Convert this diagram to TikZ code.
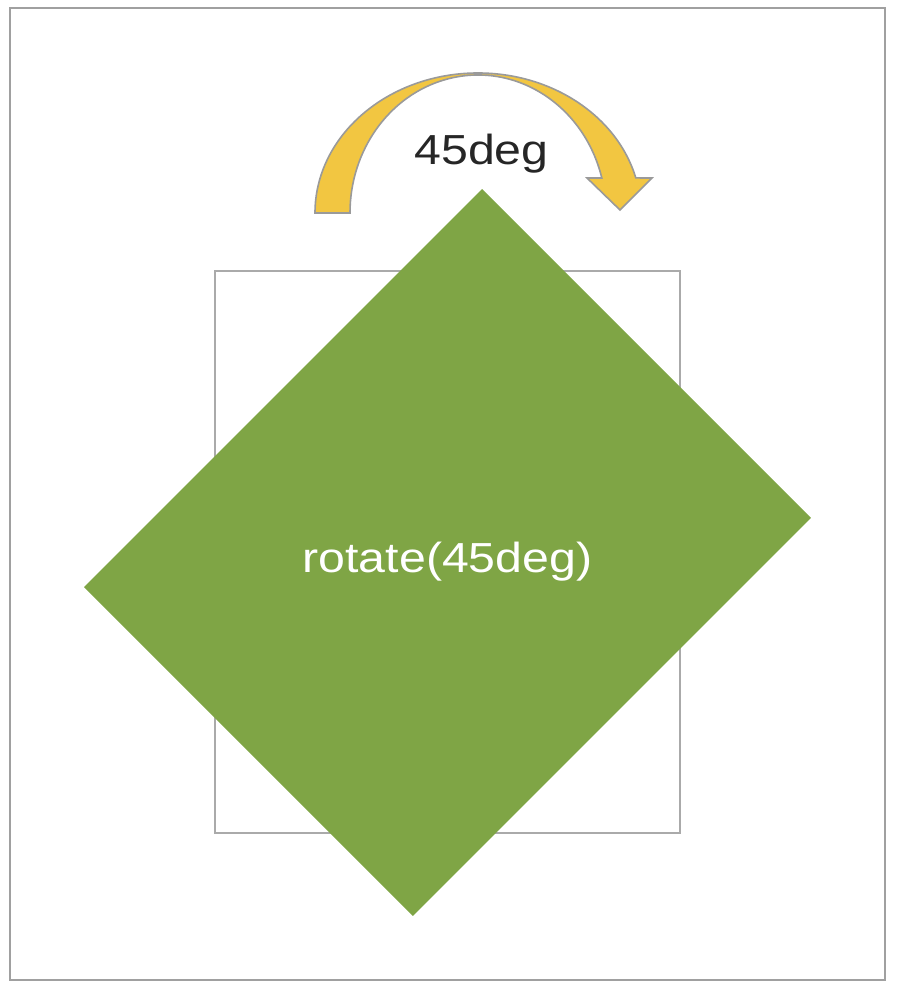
\documentclass[tikz,border=0pt]{standalone}
\usepackage{fontspec}
\setmainfont{Liberation Sans}[FakeStretch=1.15]
\definecolor{framegray}{HTML}{A0A0A0}
\definecolor{leafgreen}{HTML}{7FA545}
\definecolor{arrowyellow}{HTML}{F2C641}
\definecolor{arrowedge}{HTML}{9A9A9A}
\begin{document}
\begin{tikzpicture}[x=1pt,y=1pt,
  frame/.style={draw=framegray,line width=2.6pt},
  boxline/.style={draw=framegray!90,line width=2.2pt},
  diamondshape/.style={rectangle,fill=leafgreen,inner sep=0pt,rotate=-45,
     minimum width=465pt,minimum height=563pt},
  arrowband/.style={fill=arrowyellow,draw=arrowedge,line width=1.6pt,line join=miter},
  lbl/.style={font=\fontsize{42}{50}\selectfont,inner sep=0pt,anchor=base}]
\useasboundingbox (0,0) rectangle (898,990);
% outer frame
\draw[frame] (10,10) rectangle (885,982);
% original (unrotated) box
\draw[boxline] (215,157) rectangle (680,719);
% rotated element
\node[diamondshape] (dia) at (447.5,437.5) {};
\node[lbl,text=white] (rotlbl) at (447.5,417) {rotate(45deg)};
% curved arrow
\coordinate (ac) at (478,777);
\draw[arrowband] (315,777) arc[start angle=180,end angle=14.5,x radius=163,y radius=140]
  -- (652,812) -- (620,780) -- (587,812) -- (601.8,812)
  arc[start angle=14.7,end angle=180,x radius=128,y radius=138] -- cycle;
\node[lbl,text=black!85] (anglbl) at (481.5,825) {45deg};
\end{tikzpicture}
\end{document}
